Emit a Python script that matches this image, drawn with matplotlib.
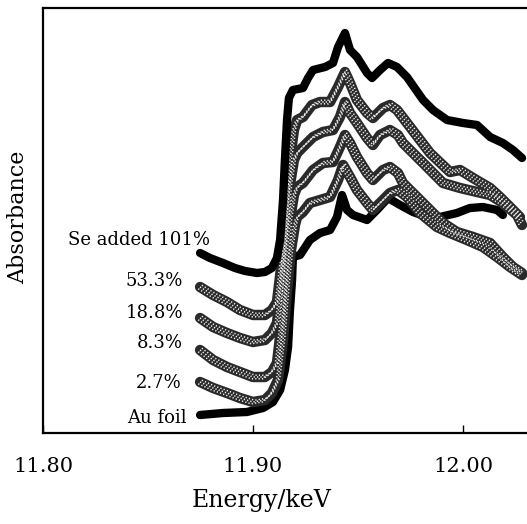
import numpy as np
import matplotlib.pyplot as plt
import matplotlib.patheffects as pe

# energies (keV) and absorbance (arb. units)
se101_e = [11.8748, 11.8795, 11.8857, 11.8914, 11.8962, 11.9019, 11.9057, 11.9090, 11.9114, 11.9129,
           11.9143, 11.9152, 11.9162, 11.9171, 11.9190, 11.9238, 11.9262, 11.9286, 11.9343, 11.9381,
           11.9405, 11.9438, 11.9462, 11.9495, 11.9543, 11.9567, 11.9605, 11.9643, 11.9686, 11.9733,
           11.9810, 11.9857, 11.9924, 12.0000, 12.0067, 12.0129, 12.0190, 12.0238, 12.0281]
se101_a = [1.80, 1.75, 1.70, 1.65, 1.62, 1.60, 1.61, 1.65, 1.75, 1.93,
           2.33, 2.73, 3.13, 3.35, 3.43, 3.45, 3.55, 3.63, 3.66, 3.70,
           3.86, 4.00, 3.83, 3.76, 3.60, 3.55, 3.63, 3.70, 3.66, 3.56,
           3.33, 3.23, 3.13, 3.10, 3.08, 2.96, 2.90, 2.83, 2.75]

se53_e = [11.8748, 11.8810, 11.8876, 11.8938, 11.9000, 11.9057, 11.9090, 11.9114, 11.9138, 11.9157,
          11.9176, 11.9195, 11.9210, 11.9238, 11.9281, 11.9319, 11.9367, 11.9405, 11.9438, 11.9462,
          11.9495, 11.9543, 11.9571, 11.9619, 11.9652, 11.9686, 11.9748, 11.9843, 11.9938, 11.9986,
          12.0048, 12.0129, 12.0176, 12.0224, 12.0271]
se53_a = [1.46, 1.38, 1.31, 1.23, 1.18, 1.18, 1.23, 1.31, 1.73, 2.23,
          2.73, 3.03, 3.13, 3.16, 3.28, 3.31, 3.31, 3.46, 3.61, 3.50,
          3.33, 3.20, 3.15, 3.25, 3.28, 3.23, 3.06, 2.80, 2.61, 2.63,
          2.55, 2.45, 2.36, 2.26, 2.16]

se19_e = [11.8748, 11.8810, 11.8876, 11.8938, 11.9000, 11.9057, 11.9090, 11.9114, 11.9138, 11.9157,
          11.9176, 11.9195, 11.9210, 11.9238, 11.9286, 11.9333, 11.9381, 11.9414, 11.9438, 11.9462,
          11.9495, 11.9543, 11.9571, 11.9605, 11.9652, 11.9690, 11.9714, 11.9810, 11.9905, 11.9986,
          12.0067, 12.0129, 12.0190, 12.0257, 12.0281]
se19_a = [1.15, 1.06, 1.00, 0.95, 0.91, 0.93, 1.00, 1.10, 1.53, 2.03,
          2.48, 2.73, 2.80, 2.86, 2.96, 3.01, 3.03, 3.16, 3.31, 3.20,
          3.10, 2.95, 2.88, 2.98, 3.03, 2.98, 2.90, 2.70, 2.50, 2.45,
          2.41, 2.38, 2.30, 2.18, 2.08]

se8_e = [11.8748, 11.8810, 11.8876, 11.8938, 11.9000, 11.9057, 11.9090, 11.9114, 11.9138, 11.9157,
         11.9176, 11.9195, 11.9210, 11.9238, 11.9286, 11.9333, 11.9381, 11.9414, 11.9438, 11.9462,
         11.9495, 11.9543, 11.9571, 11.9619, 11.9652, 11.9690, 11.9714, 11.9781, 11.9843, 11.9905,
         11.9971, 12.0048, 12.0129, 12.0190, 12.0238, 12.0281]
se8_a = [0.83, 0.73, 0.66, 0.61, 0.56, 0.56, 0.61, 0.70, 1.13, 1.63,
         2.13, 2.38, 2.46, 2.50, 2.63, 2.70, 2.71, 2.86, 2.98, 2.90,
         2.76, 2.60, 2.53, 2.63, 2.66, 2.60, 2.50, 2.36, 2.23, 2.10,
         2.01, 1.96, 1.90, 1.76, 1.66, 1.60]

se3_e = [11.8748, 11.8810, 11.8876, 11.8938, 11.9000, 11.9057, 11.9090, 11.9119, 11.9143, 11.9162,
         11.9181, 11.9200, 11.9210, 11.9238, 11.9271, 11.9319, 11.9367, 11.9405, 11.9429, 11.9462,
         11.9495, 11.9543, 11.9571, 11.9619, 11.9652, 11.9690, 11.9733, 11.9795, 11.9876, 11.9938,
         12.0019, 12.0095, 12.0162, 12.0224, 12.0281]
se3_a = [0.51, 0.45, 0.40, 0.35, 0.31, 0.33, 0.40, 0.53, 0.93, 1.43,
         1.83, 2.08, 2.16, 2.21, 2.30, 2.33, 2.36, 2.53, 2.68, 2.56,
         2.43, 2.30, 2.23, 2.33, 2.40, 2.43, 2.36, 2.20, 2.06, 2.00,
         1.93, 1.86, 1.76, 1.66, 1.58]

au_e = [11.8748, 11.8857, 11.8971, 11.9048, 11.9095, 11.9129, 11.9152, 11.9167, 11.9176, 11.9186,
        11.9190, 11.9224, 11.9271, 11.9319, 11.9367, 11.9400, 11.9424, 11.9448, 11.9476, 11.9543,
        11.9590, 11.9643, 11.9700, 11.9762, 11.9829, 11.9890, 11.9971, 12.0033, 12.0095, 12.0162,
        12.0190]
au_a = [0.18, 0.20, 0.21, 0.25, 0.31, 0.43, 0.63, 0.86, 1.23, 1.53,
        1.76, 1.78, 1.93, 2.00, 2.03, 2.16, 2.38, 2.23, 2.18, 2.13,
        2.23, 2.35, 2.28, 2.21, 2.16, 2.16, 2.20, 2.25, 2.26, 2.23,
        2.18]

labels = ["Se added 101%", "53.3%", "18.8%", "8.3%", "2.7%", "Au foil"]
label_pos = [(11.8795, 1.93), (11.8667, 1.52), (11.8667, 1.20),
             (11.8667, 0.90), (11.8662, 0.50), (11.8686, 0.15)]

xticks = [11.80, 11.90, 12.00]
xticklabels = ["11.80", "11.90", "12.00"]

plt.rcParams["font.family"] = "DejaVu Serif"

fig = plt.figure(figsize=(5.27, 5.24), dpi=100)
ax = fig.add_axes([43 / 527, 91 / 524, 504 / 527, 425 / 524])

# halftone-looking band: dark stroke with rows of small white dots
dots = [pe.Stroke(offset=(1.3, 1.3)), pe.Stroke(offset=(-1.3, -1.3)), pe.Normal()]


def stipple(x, y):
    ax.plot(x, y, color="#2a2a2a", lw=7.5, solid_capstyle="round", solid_joinstyle="round", zorder=2)
    ax.plot(x, y, color="#f2f2f2", lw=1.1, linestyle=(0, (0.8, 1.4)), zorder=2.1,
            path_effects=dots)


ax.plot(au_e, au_a, color="black", lw=6, solid_capstyle="round", solid_joinstyle="round", zorder=1)
for e, a in [(se3_e, se3_a), (se8_e, se8_a), (se19_e, se19_a), (se53_e, se53_a)]:
    stipple(e, a)
ax.plot(se101_e, se101_a, color="black", lw=6, solid_capstyle="round", solid_joinstyle="round", zorder=3)

for txt, (x, y) in zip(labels, label_pos):
    ax.text(x, y, txt, ha="right", va="center", fontsize=13)

ax.set_xlim(11.80, 12.04)
ax.set_ylim(0, 4.25)
ax.set_xticks(xticks)
ax.set_xticklabels(xticklabels, fontsize=15)
ax.set_yticks([])
ax.tick_params(axis="x", direction="in", length=6, width=1, pad=17)
for s in ax.spines.values():
    s.set_linewidth(1.6)

fig.text(262 / 527, 1 - 500 / 524, "Energy/keV", ha="center", va="center", fontsize=17)
fig.text(18 / 527, 1 - 217 / 524, "Absorbance", ha="center", va="center", rotation=90, fontsize=16)

fig.savefig("out.png", dpi=100)
